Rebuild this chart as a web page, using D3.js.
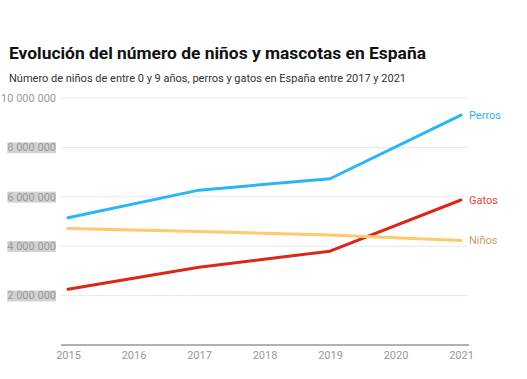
<!DOCTYPE html>
<html><head><meta charset="utf-8">
<script src="https://cdn.jsdelivr.net/npm/d3@7"></script>
<style>
body{margin:0;background:#fff;font-family:Roboto,"Noto Sans",sans-serif;}
</style></head>
<body><svg id="c" width="527" height="379"></svg>
<script>
const years = [2015, 2017, 2019, 2021];
const perros = [5150000, 6270000, 6730000, 9310000];
const gatos = [2260000, 3150000, 3800000, 5870000];
const ninos = [4720000, 4600000, 4450000, 4230000];
const seriesNames = ["Perros", "Gatos", "Niños"];
const xTicks = [2015, 2016, 2017, 2018, 2019, 2020, 2021];
const yTicks = [2000000, 4000000, 6000000, 8000000, 10000000];

const svg = d3.select("#c");
svg.append("text").attr("x", 9).attr("y", 59).attr("font-size", 17.4).attr("font-weight", 700)
  .attr("fill", "#111").text("Evolución del número de niños y mascotas en España");
svg.append("text").attr("x", 9).attr("y", 82).attr("font-size", 11).attr("fill", "#333")
  .text("Número de niños de entre 0 y 9 años, perros y gatos en España entre 2017 y 2021");

const x = d3.scaleLinear().domain([2015, 2021]).range([68, 461]);
const y = d3.scaleLinear().domain([0, 10000000]).range([345, 98]);
const fmt = v => d3.format(",")(v).replace(/,/g, " ");

// grid
const g = svg.append("g");
g.selectAll("line.grid").data(yTicks).join("line")
  .attr("x1", 61).attr("x2", 468).attr("y1", d => y(d)).attr("y2", d => y(d))
  .attr("stroke", "#e8e8e8").attr("stroke-width", 1);

// y labels
const yl = g.selectAll("g.yl").data(yTicks).join("g").attr("transform", d => `translate(56,${y(d)})`);
yl.each(function(d){
  const sel = d3.select(this);
  const t = sel.append("text").attr("text-anchor", "end").attr("dy", "0.35em")
    .attr("font-size", 11).attr("fill", "#9a9a9a").text(fmt(d));
  if (d !== 10000000) {
    const bb = t.node().getBBox();
    sel.insert("rect", "text").attr("x", bb.x).attr("y", bb.y + 1).attr("width", bb.width).attr("height", bb.height - 2)
      .attr("fill", "#d2d2d2");
  }
});

// x axis
const xAxis = d3.axisBottom(x).tickValues(xTicks).tickFormat(d3.format("d")).tickSize(0).tickPadding(6);
const xa = svg.append("g").attr("transform", "translate(0,345)").call(xAxis);
xa.select(".domain").attr("d", "M61,0H469").attr("stroke", "#999").attr("stroke-width", 1.5);
xa.selectAll("text").attr("font-size", 11).attr("fill", "#999").attr("font-family", "Roboto,sans-serif");

const data = [
  {name: seriesNames[0], vals: perros, color: "#29b6f6", label: "#2cb3ee"},
  {name: seriesNames[1], vals: gatos, color: "#d9281a", label: "#e2453a"},
  {name: seriesNames[2], vals: ninos, color: "#ffc96e", label: "#c9a060"}
];
const line = d3.line().x((d, i) => x(years[i])).y(d => y(d));
data.forEach(s => {
  svg.append("path").attr("d", line(s.vals)).attr("fill", "none").attr("stroke", s.color)
    .attr("stroke-width", 3).attr("stroke-linecap", "round").attr("stroke-linejoin", "round");
  svg.append("text").attr("x", x(2021) + 8).attr("y", y(s.vals[3])).attr("dy", "0.35em")
    .attr("font-size", 11).attr("fill", s.label).text(s.name);
});
</script></body></html>
